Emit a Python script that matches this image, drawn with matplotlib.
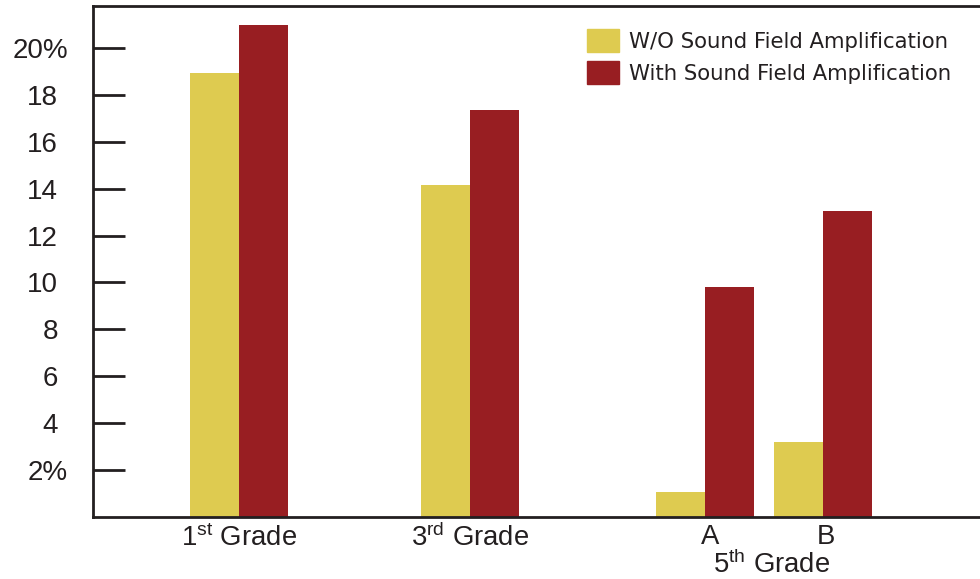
import matplotlib
matplotlib.use("Agg")
import matplotlib.pyplot as plt
from matplotlib.patches import Patch
from matplotlib.transforms import blended_transform_factory

plt.rcParams['font.family'] = ['Liberation Sans', 'DejaVu Sans']
plt.rcParams['mathtext.fontset'] = 'custom'
plt.rcParams['mathtext.rm'] = 'Liberation Sans'
plt.rcParams['mathtext.it'] = 'Liberation Sans'

# Data (percent)
groups = ["1st", "3rd", "5A", "5B"]
without_amp = [18.95, 14.15, 1.05, 3.2]
with_amp = [21.0, 17.35, 9.8, 13.05]
series_labels = ["W/O Sound Field Amplification", "With Sound Field Amplification"]
ytick_values = [2, 4, 6, 8, 10, 12, 14, 16, 18, 20]
ytick_labels = ["2%", "4", "6", "8", "10", "12", "14", "16", "18", "20%"]

YELLOW = "#DECB50"
RED = "#981E22"
INK = "#231F20"

fig = plt.figure(figsize=(9.8, 5.79), dpi=100)
ax = fig.add_axes([93 / 980, 1 - 517 / 579, (980 - 93) / 980, (517 - 6) / 579])

centers = [2.98, 7.69, 12.49, 14.9]
w = 1.0
ax.bar([c - w / 2 for c in centers], without_amp, width=w, color=YELLOW, label=series_labels[0])
ax.bar([c + w / 2 for c in centers], with_amp, width=w, color=RED, label=series_labels[1])

ax.set_xlim(0, (980 - 93) / 49)
ax.set_ylim(0, 21.79)

for s in ["left", "top", "bottom"]:
    ax.spines[s].set_linewidth(2.0)
    ax.spines[s].set_color(INK)
ax.spines["right"].set_visible(False)

ax.set_xticks([])
ax.set_yticks(ytick_values)
ax.tick_params(axis="y", direction="in", length=23, width=2.0, color=INK,
               labelleft=False)

# y tick labels: digits right-aligned, percent signs hanging past them
ytr = blended_transform_factory(fig.transFigure, ax.transData)
for v, lab in zip(ytick_values, ytick_labels):
    xr = 68 if lab.endswith("%") else 58
    ax.text(xr / 980, v, lab, transform=ytr, ha="right", va="center_baseline",
            fontsize=20, color=INK)

# category labels below the axis
lab_tr = blended_transform_factory(ax.transData, fig.transFigure)
ax.text(2.98, 1 - 538 / 579, r"1$^{\mathrm{st}}$ Grade", transform=lab_tr,
        ha="center", va="center", fontsize=19.8, color=INK)
ax.text(7.69, 1 - 538 / 579, r"3$^{\mathrm{rd}}$ Grade", transform=lab_tr,
        ha="center", va="center", fontsize=19.8, color=INK)
ax.text(12.59, 1 - 537 / 579, "A", transform=lab_tr,
        ha="center", va="center", fontsize=19.8, color=INK)
ax.text(14.96, 1 - 537 / 579, "B", transform=lab_tr,
        ha="center", va="center", fontsize=19.8, color=INK)
ax.text(13.85, 1 - 565 / 579, r"5$^{\mathrm{th}}$ Grade", transform=lab_tr,
        ha="center", va="center", fontsize=19.8, color=INK)

handles = [Patch(color=YELLOW), Patch(color=RED)]
leg = fig.legend(handles, series_labels, loc="upper left",
                 bbox_to_anchor=(587 / 980, 1 - 29 / 579), bbox_transform=fig.transFigure,
                 frameon=False, prop={"family": "DejaVu Sans", "size": 15.3},
                 handlelength=1.5, handleheight=1.3,
                 handletextpad=0.48, labelspacing=0.42, borderpad=0, borderaxespad=0)
for t in leg.get_texts():
    t.set_color(INK)

fig.savefig("out.png", dpi=100)
